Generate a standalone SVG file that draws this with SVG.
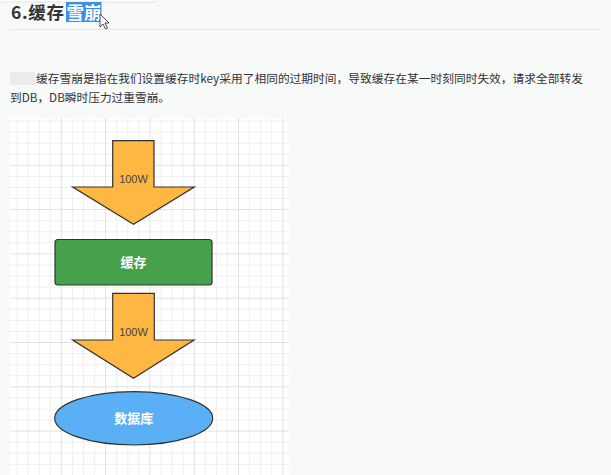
<svg xmlns="http://www.w3.org/2000/svg" width="611" height="475" viewBox="0 0 611 475">
<defs>
<style>
.minor{stroke:#efefef;stroke-width:1;fill:none}
.major{stroke:#e2e2e2;stroke-width:1;fill:none}
.arrow{fill:#ffb743;stroke:#333;stroke-width:1.2;stroke-linejoin:miter}
.lbl{font-family:"Liberation Sans",Arial,sans-serif;font-size:11px;fill:#444;text-anchor:middle}
.node{font-family:"Noto Sans CJK SC","Noto Sans",sans-serif;font-size:13px;font-weight:bold;fill:#fff;text-anchor:middle}
.para{font-family:"Noto Sans CJK SC","Noto Sans",sans-serif;font-size:11.7px;fill:#333}
.ttl{font-family:"Noto Sans CJK SC","Noto Sans",sans-serif;font-size:17.5px;font-weight:bold}
</style>
</defs>
<rect width="611" height="475" fill="#f8f9f9"/>
<rect x="-5" y="-10" width="162" height="12" rx="3" fill="#fff" stroke="#e3e3e3"/>
<g id="title">
<rect x="66" y="2" width="35.5" height="20" fill="#3e8ee6"/>
<text class="ttl" x="11" y="19" fill="#333" textLength="53" lengthAdjust="spacing">6.缓存</text>
<text class="ttl" x="66.5" y="19" fill="#fff">雪崩</text>
<path d="M100,14 L100,27 L103,24 L105.5,29 L107.5,28 L105,23 L109,23 Z" fill="#fff" stroke="#222" stroke-width="0.8"/>
</g>
<line x1="10" y1="29.5" x2="602" y2="29.5" stroke="#e6e8e8"/>
<g id="paragraph">
<rect x="10" y="72" width="25" height="13" fill="#ececec"/>
<text class="para" x="36" y="83" textLength="547" lengthAdjust="spacingAndGlyphs">缓存雪崩是指在我们设置缓存时key采用了相同的过期时间，导致缓存在某一时刻同时失效，请求全部转发</text>
<text class="para" x="10" y="102">到DB，DB瞬时压力过重雪崩。</text>
</g>
<g id="grid">
<rect x="10" y="118" width="279" height="357" fill="#fff"/>
<path class="minor" d="M17,118V475M28.1,118V475M39.2,118V475M50.2,118V475M72.4,118V475M83.5,118V475M94.5,118V475M116.7,118V475M127.8,118V475M138.8,118V475M161,118V475M172.1,118V475M183.1,118V475M205.3,118V475M216.4,118V475M227.4,118V475M249.6,118V475M260.7,118V475M271.7,118V475
M10,121H289M10,132.1H289M10,143.2H289M10,154.2H289M10,176.4H289M10,187.5H289M10,198.5H289M10,220.7H289M10,231.8H289M10,242.8H289M10,265H289M10,276.1H289M10,287.1H289M10,309.3H289M10,320.4H289M10,331.4H289M10,353.6H289M10,364.7H289M10,375.7H289M10,397.9H289M10,409H289M10,420H289M10,442.2H289M10,453.3H289M10,464.3H289"/>
<path class="major" d="M61.3,118V475M105.6,118V475M149.9,118V475M194.2,118V475M238.5,118V475M282.8,118V475M10,165.3H289M10,209.6H289M10,253.9H289M10,298.2H289M10,342.5H289M10,386.8H289M10,431.1H289"/>
</g>
<g id="connectors">
<g id="arrow1">
<path class="arrow" d="M112.7,140.7 H154 V187 H194.3 L133.5,224.3 L72.7,187 H112.7 Z"/>
<text class="lbl" x="133.5" y="183">100W</text>
</g>
<g id="arrow2">
<path class="arrow" d="M112.7,293.3 H154.3 V340 H194 L133.5,378.3 L72.7,340 H112.7 Z"/>
<text class="lbl" x="133.5" y="335.5">100W</text>
</g>
</g>
<g id="cache">
<rect x="55" y="239.5" width="157" height="45.5" rx="3" fill="#46a04c" stroke="#333" stroke-width="1.2"/>
<text class="node" x="133.5" y="267">缓存</text>
</g>
<g id="database">
<ellipse cx="133.7" cy="418.3" rx="79" ry="26.7" fill="#5aaff5" stroke="#333" stroke-width="1.2"/>
<text class="node" x="133.7" y="423">数据库</text>
</g>
</svg>
